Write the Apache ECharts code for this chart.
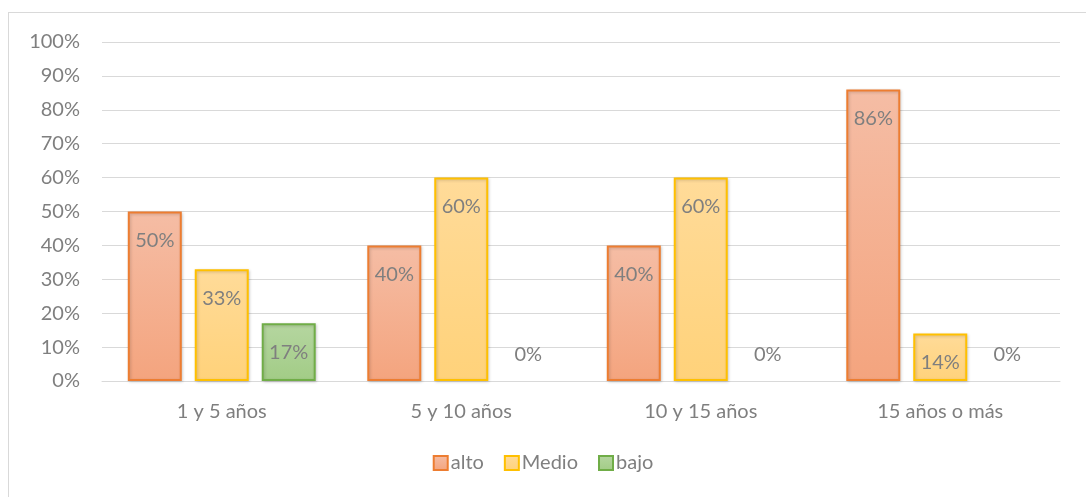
<!DOCTYPE html>
<html>
<head>
<meta charset="utf-8">
<script src="https://cdn.jsdelivr.net/npm/echarts@6/dist/echarts.min.js"></script>
<style>
  html, body { margin: 0; padding: 0; background: #fff; }
  #frame { position: absolute; left: 8px; top: 12px; width: 1100px; height: 500px; border: 1px solid #D9D9D9; box-sizing: border-box; }
  #chart { position: absolute; left: 0; top: 0; width: 1086px; height: 497px; }
</style>
</head>
<body>
<div id="frame"></div>
<div id="chart"></div>
<script>
const categories = ['1 y 5 años', '5 y 10 años', '10 y 15 años', '15 años o más'];
const alto = [50, 40, 40, 86];
const medio = [33, 60, 60, 14];
const bajo = [17, 0, 0, 0];
const yTicks = [0, 10, 20, 30, 40, 50, 60, 70, 80, 90, 100];

const FONT = 'Lato, "Open Sans", sans-serif';
const TXT = '#7F7F7F';
const FS = 20;

function grad(top, bottom) {
  return new echarts.graphic.LinearGradient(0, 0, 0, 1, [
    { offset: 0, color: top },
    { offset: 1, color: bottom }
  ]);
}

function makeSeries(name, values, fillTop, fillBottom, border) {
  return {
    name: name,
    type: 'bar',
    barWidth: 54,
    barGap: '24%',
    itemStyle: {
      color: grad(fillTop, fillBottom),
      borderColor: border,
      borderWidth: 2,
      shadowBlur: 3,
      shadowColor: 'rgba(0,0,0,0.18)',
      shadowOffsetX: 1,
      shadowOffsetY: 1
    },
    data: values.map(v => v === 0
      ? {
          value: v,
          itemStyle: { borderWidth: 0, opacity: 0 },
          label: { position: 'top', distance: 16, opacity: 1 }
        }
      : {
          value: v,
          label: { position: 'insideTop', distance: 19 }
        }),
    label: {
      show: true,
      formatter: p => p.value + '%',
      color: TXT,
      fontFamily: FONT,
      fontSize: FS
    }
  };
}

const chart = echarts.init(document.getElementById('chart'), null, { renderer: 'canvas' });
chart.setOption({
  animation: false,
  textStyle: { fontFamily: FONT },
  grid: { left: 102, right: 26, top: 42, bottom: 116, containLabel: false },
  legend: {
    bottom: 19,
    left: 'center',
    itemWidth: 14,
    itemHeight: 14,
    itemGap: 20,
    icon: 'rect',
    textStyle: { color: TXT, fontSize: FS, fontFamily: FONT, padding: [0, 0, 0, -2] },
    data: ['alto', 'Medio', 'bajo']
  },
  xAxis: {
    type: 'category',
    data: categories,
    axisLine: { lineStyle: { color: '#D9D9D9', width: 1 } },
    axisTick: { show: false },
    axisLabel: { color: TXT, fontSize: FS, fontFamily: FONT, margin: 21 }
  },
  yAxis: {
    type: 'value',
    min: yTicks[0],
    max: yTicks[yTicks.length - 1],
    interval: 10,
    axisLine: { show: false },
    axisTick: { show: false },
    splitLine: { lineStyle: { color: '#D9D9D9', width: 1 } },
    axisLabel: { color: TXT, fontSize: FS, fontFamily: FONT, margin: 22, formatter: '{value}%' }
  },
  series: [
    makeSeries('alto', alto, '#F5BDA5', '#F4A47E', '#ED7D31'),
    makeSeries('Medio', medio, '#FFDB99', '#FFD27A', '#FFC000'),
    makeSeries('bajo', bajo, '#B5D6A0', '#A2CC86', '#70AD47')
  ]
});
</script>
</body>
</html>
